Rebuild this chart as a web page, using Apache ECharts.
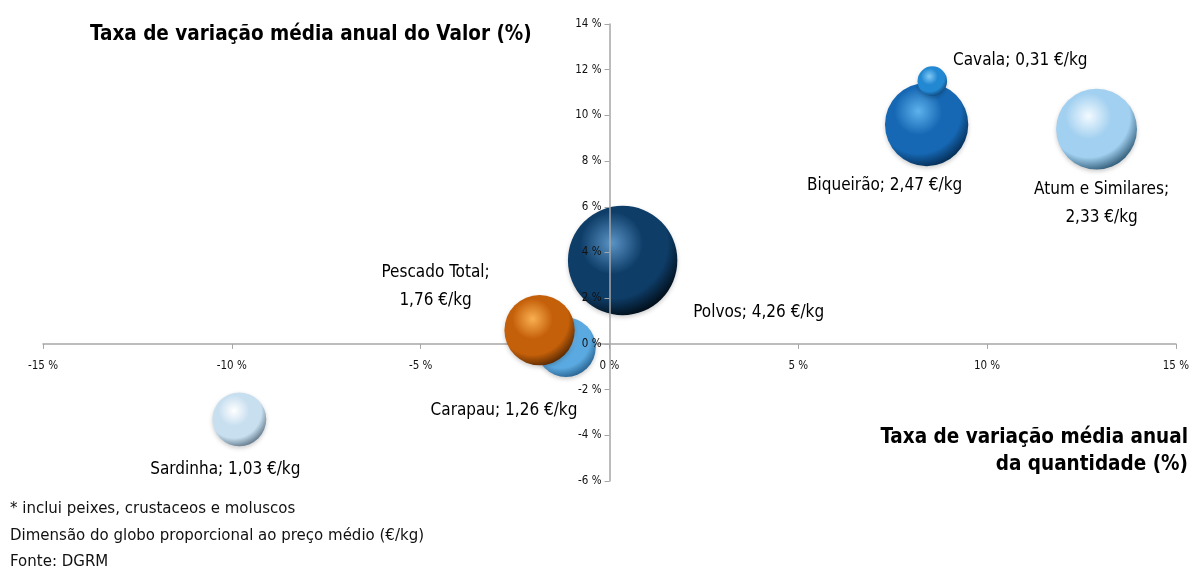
<!DOCTYPE html>
<html>
<head>
<meta charset="utf-8">
<script src="https://cdn.jsdelivr.net/npm/echarts@6/dist/echarts.min.js"></script>
<style>
  html, body { margin: 0; padding: 0; background: #fff; }
  #chart { width: 1192px; height: 574px; }
</style>
</head>
<body>
<div id="chart"></div>
<script>
// especies, taxa de variacao da quantidade (x), do valor (y), preco medio (tamanho)
var especies = ['Polvos', 'Carapau', 'Pescado Total', 'Sardinha', 'Biqueirão', 'Cavala', 'Atum e Similares'];
var varQuantidade = [0.35, -1.15, -1.85, -9.8, 8.4, 8.55, 12.9];
var varValor = [3.65, -0.15, 0.6, -3.3, 9.6, 11.5, 9.4];
var precoMedio = [4.26, 1.26, 1.76, 1.03, 2.47, 0.31, 2.33];

// aparencia de cada globo
var cores = [
  ['#5a94c6', '#0e3d68', '#02101c'],
  ['#b8def8', '#5aa9e0', '#2a6694'],
  ['#f9b050', '#c5600a', '#5e2c03'],
  ['#ffffff', '#c8dff0', '#677f90'],
  ['#5eb2ec', '#1668b4', '#062f58'],
  ['#80c8f6', '#2288d2', '#114e84'],
  ['#f2faff', '#a2d0f0', '#36627e']
];
var quebraLinha = [false, false, true, false, false, false, true];
var offsets = [[136, 52], [-62, 63], [-104, -44], [-14, 50], [-42, 61], [88, -21], [5, 74]];

function fmt(v) { return v.toFixed(2).replace('.', ','); }

var chart = echarts.init(document.getElementById('chart'));

// grelha e posicao dos eixos no zero
var G = { left: 43, right: 16, top: 24, bottom: 93 };
var gw = 1192 - G.left - G.right, gh = 574 - G.top - G.bottom;
var xMin = -15, xMax = 15, yMin = -6, yMax = 14;
var yAxisOffset = -gw * (0 - xMin) / (xMax - xMin);
var xAxisOffset = -gh * (0 - yMin) / (yMax - yMin);

var dados = especies.map(function (nome, i) {
  var c = cores[i];
  return {
    name: nome,
    value: [varQuantidade[i], varValor[i], precoMedio[i]],
    itemStyle: {
      color: {
        type: 'radial', x: 0.4, y: 0.34, r: 0.68,
        colorStops: [
          { offset: 0, color: c[0] },
          { offset: 0.42, color: c[1] },
          { offset: 0.75, color: c[1] },
          { offset: 1, color: c[2] }
        ]
      }
    },
    label: {
      offset: offsets[i],
      formatter: nome + ';' + (quebraLinha[i] ? '\n' : ' ') + fmt(precoMedio[i]) + ' €/kg'
    }
  };
});

chart.setOption({
  animation: false,
  grid: G,
  xAxis: {
    type: 'value',
    min: xMin, max: xMax, interval: 5,
    offset: xAxisOffset,
    axisLine: { onZero: false, lineStyle: { color: '#a6a6a6', width: 1.5 } },
    axisTick: { show: true, length: 5, lineStyle: { color: '#a6a6a6' } },
    splitLine: { show: false },
    axisLabel: {
      formatter: '{value} %', color: '#111', fontSize: 11.5,
      fontFamily: 'DejaVu Sans Condensed', margin: 16
    }
  },
  yAxis: {
    type: 'value',
    min: yMin, max: yMax, interval: 2,
    offset: yAxisOffset,
    z: 3,
    axisLine: { show: true, onZero: false, lineStyle: { color: '#a6a6a6', width: 1.5 } },
    axisTick: { show: true, length: 5, lineStyle: { color: '#a6a6a6' } },
    splitLine: { show: false },
    axisLabel: {
      formatter: '{value} %', color: '#111', fontSize: 11.5,
      fontFamily: 'DejaVu Sans Condensed', margin: 8
    }
  },
  series: [{
    type: 'scatter',
    data: dados,
    symbolSize: function (v) { return Math.sqrt(v[2]) * 53; },
    itemStyle: { opacity: 1, shadowBlur: 4, shadowColor: 'rgba(0,0,0,0.2)', shadowOffsetY: 2 },
    label: {
      show: true,
      position: 'inside',
      align: 'center',
      verticalAlign: 'middle',
      color: '#000',
      fontSize: 17,
      lineHeight: 28,
      fontFamily: 'DejaVu Sans Condensed'
    }
  }],
  graphic: [
    {
      type: 'text', left: 90, top: 24,
      style: { text: 'Taxa de variação média anual do Valor (%)', font: 'bold 20.5px "DejaVu Sans Condensed"', fill: '#000' }
    },
    {
      type: 'text', right: 4, top: 427,
      style: { text: 'Taxa de variação média anual', font: 'bold 20.5px "DejaVu Sans Condensed"', fill: '#000' }
    },
    {
      type: 'text', right: 4, top: 454,
      style: { text: 'da quantidade (%)', font: 'bold 20.5px "DejaVu Sans Condensed"', fill: '#000' }
    },
    {
      type: 'text', left: 10, top: 502,
      style: { text: '* inclui peixes, crustaceos e moluscos', font: '15px "DejaVu Sans"', fill: '#111' }
    },
    {
      type: 'text', left: 10, top: 529,
      style: { text: 'Dimensão do globo proporcional ao preço médio (€/kg)', font: '15px "DejaVu Sans"', fill: '#111' }
    },
    {
      type: 'text', left: 10, top: 555,
      style: { text: 'Fonte: DGRM', font: '15px "DejaVu Sans"', fill: '#111' }
    }
  ]
});
</script>
</body>
</html>
